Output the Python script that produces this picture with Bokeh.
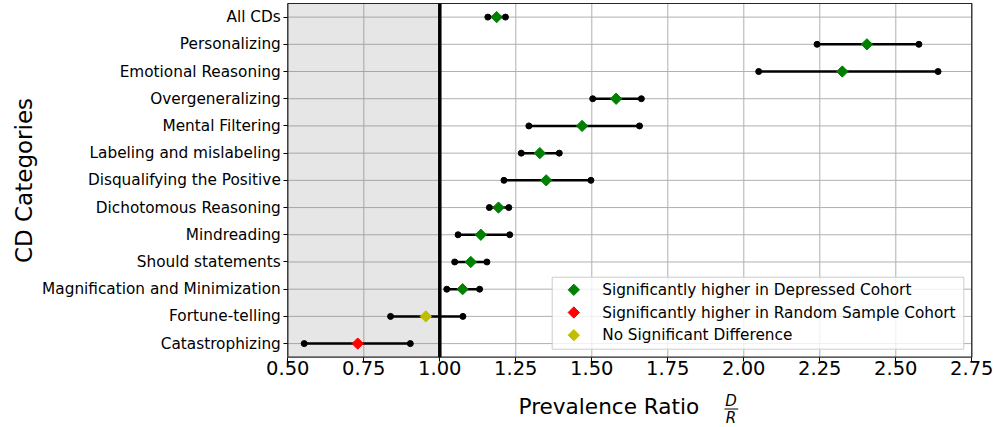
import math
from bokeh.plotting import figure
from bokeh.models import (Range1d, FixedTicker, PrintfTickFormatter, Label, BoxAnnotation,
                          ColumnDataSource)
from bokeh.embed import file_html
from bokeh.resources import INLINE

# ---- data ----
categories = ["All CDs", "Personalizing", "Emotional Reasoning", "Overgeneralizing",
              "Mental Filtering", "Labeling and mislabeling", "Disqualifying the Positive",
              "Dichotomous Reasoning", "Mindreading", "Should statements",
              "Magnification and Minimization", "Fortune-telling", "Catastrophizing"]
ratio = [1.187, 2.405, 2.324, 1.580, 1.468, 1.329, 1.350, 1.193, 1.135, 1.102, 1.075, 0.954, 0.730]
lower = [1.158, 2.241, 2.049, 1.503, 1.293, 1.268, 1.211, 1.163, 1.060, 1.049, 1.023, 0.838, 0.554]
upper = [1.216, 2.576, 2.639, 1.663, 1.657, 1.393, 1.497, 1.227, 1.230, 1.155, 1.131, 1.076, 0.903]
significance = ["D", "D", "D", "D", "D", "D", "D", "D", "D", "D", "D", "N", "R"]
group_order = ["D", "R", "N"]
group_labels = {"D": "Significantly higher in Depressed Cohort",
                "R": "Significantly higher in Random Sample Cohort",
                "N": "No Significant Difference"}
group_colors = {"D": "#008000", "R": "#ff0000", "N": "#bfbf00"}
x_ticks = [0.50, 0.75, 1.00, 1.25, 1.50, 1.75, 2.00, 2.25, 2.50, 2.75]
x_min, x_max = 0.50, 2.75
shade_left, shade_right = 0.50, 1.00
reference_ratio = 1.0

FONT = "DejaVu Sans"

# ---- layout (pixels, from the top-left of the figure) ----
W, H = 995, 427
AX_L, AX_R, AX_T, AX_B = 287.3, 971.3, 3.0, 356.7   # the visible axes box

n = len(categories)
pos = [n - 1 - i for i in range(n)]          # first category at the top
y_top, y_bot = n - 0.5, -0.5

# the frame covers the whole figure so that nothing outside the axes box is clipped
sx = (x_max - x_min) / (AX_R - AX_L)
sy = (y_top - y_bot) / (AX_B - AX_T)
x_start, x_end = x_min - AX_L * sx, x_max + (W - AX_R) * sx
y_start, y_end = y_bot - (H - AX_B) * sy, y_top + AX_T * sy


def px_x(px):
    return x_min + (px - AX_L) * sx


def px_y(py):
    return y_top - (py - AX_T) * sy


p = figure(width=W, height=H, output_backend="svg", toolbar_location=None,
           x_range=Range1d(x_start, x_end), y_range=Range1d(y_start, y_end),
           min_border_left=0, min_border_right=0, min_border_top=0, min_border_bottom=0)
p.background_fill_color = "white"
p.border_fill_color = "white"
p.outline_line_color = None
p.xgrid.visible = False
p.ygrid.visible = False

# axes fixed on the edges of the axes box
p.xaxis.fixed_location = y_bot
p.yaxis.fixed_location = x_min
p.xaxis.ticker = FixedTicker(ticks=x_ticks)
p.xaxis.formatter = PrintfTickFormatter(format="%.2f")
p.yaxis.ticker = FixedTicker(ticks=pos)
p.yaxis.major_label_overrides = {pp: c for pp, c in zip(pos, categories)}
p.xaxis.bounds = (x_min, x_max)
p.yaxis.bounds = (y_bot, y_top)
for ax in (p.xaxis[0], p.yaxis[0]):
    ax.axis_line_color = None
    ax.major_tick_line_color = "black"
    ax.major_tick_out = 4
    ax.major_tick_in = 0
    ax.minor_tick_line_color = None
    ax.major_label_text_font = FONT
    ax.major_label_text_color = "black"
p.xaxis.major_label_text_font_size = "19.5px"
p.xaxis.major_label_standoff = 0
p.yaxis.major_label_text_font_size = "15.3px"
p.yaxis.major_label_standoff = 3

# grid lines inside the axes box
p.segment(x0=x_ticks, x1=x_ticks, y0=[y_bot] * len(x_ticks), y1=[y_top] * len(x_ticks),
          line_color="#b0b0b0", line_width=1)
p.segment(x0=[x_min] * n, x1=[x_max] * n, y0=pos, y1=pos, line_color="#b0b0b0", line_width=1)

# shaded region
p.quad(left=[shade_left], right=[shade_right], bottom=[y_bot], top=[y_top],
       fill_color="gray", fill_alpha=0.2, line_color=None)
# reference line at ratio 1
p.segment(x0=[reference_ratio], x1=[reference_ratio], y0=[y_bot], y1=[y_top],
          line_color="black", line_width=3.5)

# confidence intervals
src = ColumnDataSource(dict(pos=pos, ratio=ratio, lower=lower, upper=upper))
p.segment(x0="lower", y0="pos", x1="upper", y1="pos", source=src, line_color="black", line_width=2.5)
p.scatter(x="lower", y="pos", source=src, size=6, color="black")
p.scatter(x="upper", y="pos", source=src, size=6, color="black")

# ratio markers (diamonds)
for key in group_order:
    idx = [i for i, s in enumerate(significance) if s == key]
    s = ColumnDataSource(dict(pos=[pos[i] for i in idx], ratio=[ratio[i] for i in idx]))
    p.scatter(x="ratio", y="pos", source=s, marker="square", angle=math.pi / 4, size=8,
              fill_color=group_colors[key], line_color=group_colors[key])

# axes box outline
p.add_layout(BoxAnnotation(left=x_min, right=x_max, bottom=y_bot, top=y_top,
                           fill_color=None, fill_alpha=0, line_color="black",
                           line_width=1.2, line_alpha=0.85))

# legend (box, diamonds, labels)
LG_L, LG_R, LG_T, LG_B = 551.7, 963.3, 276.7, 348.7
LG_MARK_X, LG_TEXT_X = 573.3, 601.7
LG_ROWS = [289.3, 312.0, 334.7]
p.quad(left=[px_x(LG_L)], right=[px_x(LG_R)], top=[px_y(LG_T)], bottom=[px_y(LG_B)],
       fill_color="white", fill_alpha=0.8, line_color="#cccccc", line_width=1)
p.scatter(x=[px_x(LG_MARK_X)] * 3, y=[px_y(r) for r in LG_ROWS], marker="square",
          angle=math.pi / 4, size=8, fill_color=[group_colors[k] for k in group_order],
          line_color=[group_colors[k] for k in group_order])
for key, row in zip(group_order, LG_ROWS):
    p.add_layout(Label(x=LG_TEXT_X, y=H - row, x_units="screen", y_units="screen",
                       text=group_labels[key], text_font=FONT, text_font_size="15.3px",
                       text_baseline="middle", text_align="left", text_color="black"))

# y axis title
p.add_layout(Label(x=23, y=H - 180, x_units="screen", y_units="screen", text="CD Categories",
                   angle=math.pi / 2, text_font=FONT, text_font_size="23px",
                   text_baseline="middle", text_align="center", text_color="black"))

# x axis title "Prevalence Ratio  D/R" (stacked fraction)
p.add_layout(Label(x=518, y=H - 406.2, x_units="screen", y_units="screen", text="Prevalence Ratio",
                   text_font=FONT, text_font_size="21.6px", text_baseline="middle",
                   text_align="left", text_color="black"))
p.add_layout(Label(x=730.5, y=H - 400.5, x_units="screen", y_units="screen", text="D",
                   text_font=FONT, text_font_size="15px", text_font_style="italic",
                   text_baseline="middle", text_align="center", text_color="black"))
p.add_layout(Label(x=730.5, y=H - 417.5, x_units="screen", y_units="screen", text="R",
                   text_font=FONT, text_font_size="15px", text_font_style="italic",
                   text_baseline="middle", text_align="center", text_color="black"))
p.add_layout(BoxAnnotation(left=724, right=737.7, bottom=H - 409, top=H - 408,
                           left_units="screen", right_units="screen",
                           bottom_units="screen", top_units="screen",
                           fill_color="black", fill_alpha=1, line_color=None))

open("out.html", "w").write(file_html(p, INLINE))
